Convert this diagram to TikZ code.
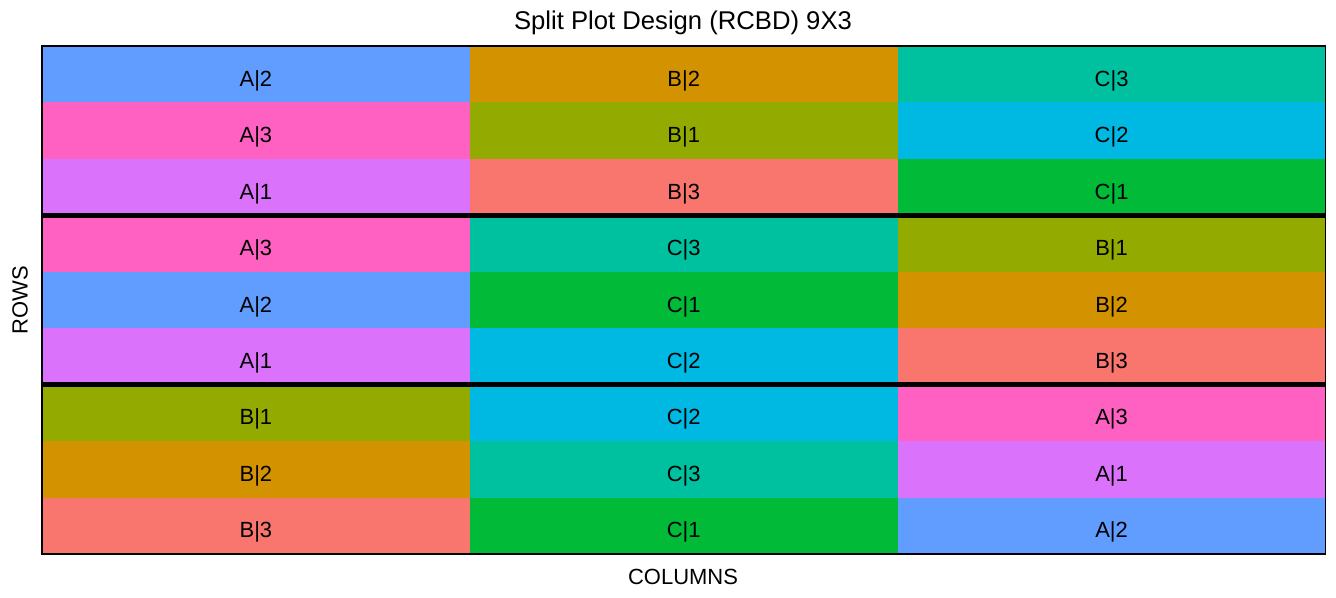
\documentclass[tikz,border=0pt]{standalone}
\usepackage{fontspec}
\setmainfont{Liberation Sans}
\usepackage{xcolor}
\usepackage{tikz}
\usetikzlibrary{calc}
\definecolor{cA1}{HTML}{DB72FB}
\definecolor{cA2}{HTML}{619CFF}
\definecolor{cA3}{HTML}{FF61C3}
\definecolor{cB1}{HTML}{93AA00}
\definecolor{cB2}{HTML}{D39200}
\definecolor{cB3}{HTML}{F8766D}
\definecolor{cC1}{HTML}{00BA38}
\definecolor{cC2}{HTML}{00B9E3}
\definecolor{cC3}{HTML}{00C19F}
\tikzset{
  parcela/.style={minimum width=8.5566cm,minimum height=1.1289cm,inner sep=0pt,outer sep=0pt},
  rotulo/.style={font=\fontsize{12.5}{14}\selectfont},
  bloque/.style={line width=2.9pt}
}

\begin{document}
\begin{tikzpicture}[x=0.02cm,y=-0.02cm]
  \useasboundingbox (0,0) rectangle (1336,598);
  \foreach \fila/\trio in {1/{A/2,B/2,C/3},2/{A/3,B/1,C/2},3/{A/1,B/3,C/1},
                           4/{A/3,C/3,B/1},5/{A/2,C/1,B/2},6/{A/1,C/2,B/3},
                           7/{B/1,C/2,A/3},8/{B/2,C/3,A/1},9/{B/3,C/1,A/2}}
    \foreach \l/\n [count=\col] in \trio {
      \node[parcela,fill=c\l\n] (c\fila-\col) at ({42+427.83*(\col-0.5)},{46+56.44*(\fila-0.5)}) {};
      \node[rotulo] at ($(c\fila-\col)+(0,6.5)$) {\l|\n};
    }
  \draw[line width=0.85pt] (c1-1.north west) rectangle (c9-3.south east);
  \draw[bloque] (c3-1.south west) -- (c3-3.south east);
  \draw[bloque] (c6-1.south west) -- (c6-3.south east);
  \node[font=\fontsize{14.6}{17}\selectfont] (titulo) at (683,23) {Split Plot Design (RCBD) 9X3};
  \node[rotulo] (ejex) at (683,577) {COLUMNS};
  \node[rotulo,rotate=90] (ejey) at (20,300) {ROWS};
\end{tikzpicture}
\end{document}
